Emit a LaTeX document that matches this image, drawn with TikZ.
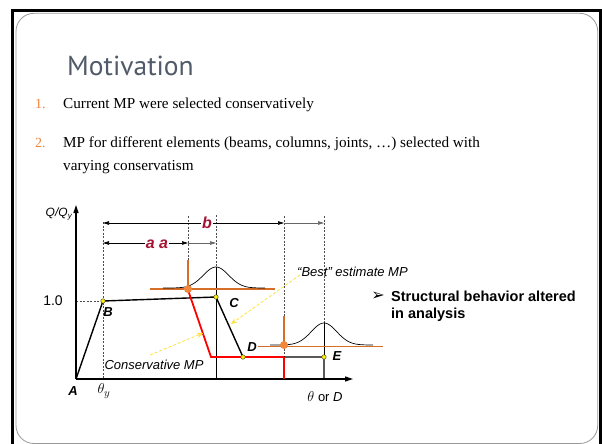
\documentclass[tikz,border=0pt]{standalone}
\usepackage{fontspec}
\setmainfont{Liberation Serif}
\setsansfont{Liberation Sans}
\newfontfamily\titlefont{PT Sans}
\newfontfamily\symbolfont{DejaVu Sans}
\usetikzlibrary{arrows.meta}

\definecolor{titlegray}{RGB}{80,90,104}
\definecolor{numorange}{RGB}{240,130,60}
\definecolor{dimred}{RGB}{165,20,50}
\definecolor{crossorange}{RGB}{215,110,40}
\definecolor{dotorange}{RGB}{240,135,60}
\definecolor{hintyellow}{RGB}{255,225,60}

\begin{document}
\begin{tikzpicture}[x=1pt, y=-1pt,
    frame/.style={fill=black},
    slide/.style={draw=gray!80, line width=0.8pt, rounded corners=18pt},
    title/.style={font=\titlefont\fontsize{27.5}{33}\selectfont, text=titlegray, inner sep=0pt},
    body/.style={font=\fontsize{15.2}{23}\selectfont, inner sep=0pt},
    num/.style={font=\fontsize{14}{18}\selectfont, text=numorange, inner sep=0pt},
    axis/.style={line width=1.3pt, -{Triangle[length=8pt, width=5pt]}},
    branch/.style={line width=1.4pt, line join=round},
    conserv/.style={red, line width=1.8pt},
    guide/.style={dash pattern=on 2pt off 1.5pt, line width=0.4pt, black!70},
    dim/.style={line width=0.7pt, {Triangle[length=6pt, width=3.5pt]}-{Triangle[length=6pt, width=3.5pt]}},
    dimend/.style={line width=0.7pt, black!60, -{Triangle[length=6pt, width=3.5pt]}},
    knot/.style={circle, fill=yellow, draw=black!80, line width=0.4pt, inner sep=0pt, minimum size=4.5pt},
    dot/.style={circle, fill=dotorange, inner sep=0pt, minimum size=8pt},
    ptlabel/.style={font=\sffamily\bfseries\itshape\fontsize{13}{15}\selectfont, inner sep=0pt},
    dimlabel/.style={font=\sffamily\bfseries\itshape\fontsize{16}{18}\selectfont, text=dimred, fill=white, inner sep=1pt},
    note/.style={font=\sffamily\itshape\fontsize{13}{15}\selectfont, inner sep=0pt},
    axlabel/.style={font=\sffamily\fontsize{13}{15}\selectfont, inner sep=0pt},
    remark/.style={font=\sffamily\bfseries\fontsize{14.5}{17}\selectfont, inner sep=0pt},
    hint/.style={draw=hintyellow, dash pattern=on 3pt off 2pt, line width=0.8pt, -{Stealth[length=6pt, width=5pt]}},
    cross/.style={draw=crossorange, line width=2.5pt},
    bell/.style={line width=0.7pt}
]
\useasboundingbox (0,0) rectangle (602,444);

% Slide frame
\fill[frame] (11,9.2) rectangle (602,12.2);
\fill[frame] (11,9.2) rectangle (14,444);
\fill[frame] (599,9.2) rectangle (602,444);
\draw[slide] (16,13.3) rectangle (597.7,443.5);

% Title and list
\node[title, anchor=base west] (title) at (67,75) {Motivation};
\node[num, anchor=base west] (n1) at (35,108) {1.};
\node[body, anchor=base west] (item1) at (63,108) {Current MP were selected conservatively};
\node[num, anchor=base west] (n2) at (35,147) {2.};
\node[body, anchor=base west] (item2) at (63,147) {MP for different elements (beams, columns, joints, \dots) selected with};
\node[body, anchor=base west] (item2b) at (63,170) {varying conservatism};

% Points of the curve
\coordinate (A) at (76,379);
\coordinate (B) at (103,301);
\coordinate (C) at (216,297);
\coordinate (D) at (243,357);
\coordinate (E) at (324,357);
\coordinate (E0) at (324,379);
\coordinate (ytip) at (76,205);
\coordinate (xtip) at (353,379);

% Guide lines
\draw[guide] (76,301) -- (B);
\draw[guide] (103,222) -- (B) -- (103,379);
\draw[guide] (188,216) -- (188,260);
\draw[guide] (216,215) -- (216,267);
\draw[line width=0.5pt] (216,267) -- (216,379);
\draw[guide] (284,216) -- (284,316);
\draw[guide] (284,345) -- (284,357);
\draw[guide] (324,216) -- (324,323);
\draw[line width=0.5pt] (324,323) -- (E);

% Dimensions
\coordinate (bL) at (103,223);
\coordinate (bM) at (284,223);
\coordinate (bR) at (324,223);
\draw[dim] (bL) -- (bM);
\draw[dimend] (bM) -- (bR);
\node[dimlabel] (b) at (207,223) {b};
\coordinate (aL) at (103,243);
\coordinate (aM) at (188,243);
\coordinate (aR) at (216,243);
\draw[dim] (aL) -- (aM);
\draw[dimend] (aM) -- (aR);
\node[dimlabel] (a) at (157,244) {a a};

% Distributions
\draw[cross, line width=2pt] (150,289) -- (275,289);
\draw[cross] (188,260) -- (188,289);
\draw[bell] plot[domain=-53:49, samples=70] ({216+\x}, {288-21*exp(-1*((\x/18)^2))});
\draw[cross, line width=0.8pt] (258,346) -- (383,346);
\draw[cross] (284,316) -- (284,345);
\draw[bell] plot[domain=-54:49, samples=70] ({324+\x}, {345-22*exp(-1*((\x/18)^2))});

% Axes
\draw[axis] (A) -- (ytip);
\draw[axis] (A) -- (xtip);

% Backbone curves
\draw[branch] (A) -- (B) -- (C) -- (D) -- (E) -- (E0);
\coordinate (R1) at (188,290);
\coordinate (R2) at (211,357);
\coordinate (R3) at (284,357);
\coordinate (R4) at (284,379);
\draw[conserv] (R1) -- (R2) -- (R3);
\draw[conserv, line width=2.6pt] (R3) -- (R4);
\node[dot] (g1) at (188,289) {};
\node[dot] (g2) at (284,345) {};
\foreach \p in {B,C,D,E} \node[knot] at (\p) {};

% Labels
\node[axlabel, font=\sffamily\itshape\fontsize{12}{14}\selectfont] (ylab) at (59,214) {Q/Q\textsubscript{y}};
\node[axlabel, font=\sffamily\fontsize{14}{16}\selectfont] (one) at (53,301) {1.0};
\node[axlabel, font=\fontsize{15}{17}\selectfont] (thy) at (104,391) {$\theta_y$};
\node[axlabel] (xlab) at (325,397) {{\fontsize{15}{17}\selectfont$\theta$} or \textit{D}};
\node[ptlabel] (lA) at (73,391) {A};
\node[ptlabel] (lB) at (108,312) {B};
\node[ptlabel] (lC) at (234,303) {C};
\node[ptlabel] (lD) at (252,347) {D};
\node[ptlabel] (lE) at (337,356) {E};

% Notes with pointers
\node[note, anchor=west] (best) at (297,272) {“Best” estimate MP};
\coordinate (bestend) at (231,324);
\draw[hint] (best.south west) ++(3,-2) -- (bestend);
\node[note] (cons) at (154,365) {Conservative MP};
\coordinate (consend) at (203,333);
\draw[hint] (150,355) -- (consend);

% Remark
\node[inner sep=0pt, font=\symbolfont\fontsize{16}{18}\selectfont] (tick) at (378,296) {➢};
\node[remark, anchor=base west] (remark) at (391,301) {Structural behavior altered};
\node[remark, anchor=base west] (remark2) at (391,318) {in analysis};

\end{tikzpicture}
\end{document}
